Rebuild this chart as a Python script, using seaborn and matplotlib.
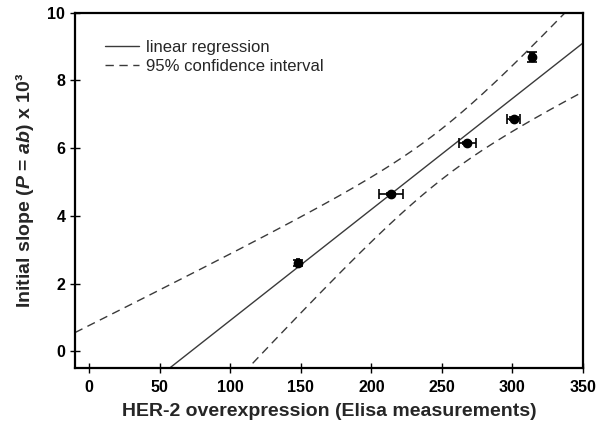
import numpy as np
import pandas as pd
import matplotlib
matplotlib.use("Agg")
import matplotlib.pyplot as plt
import seaborn as sns

# =========================================================
# DATA
# =========================================================
her2 = [148, 214, 268, 301, 314]
slope = [2.61, 4.65, 6.15, 6.87, 8.70]
her2_err = [0.8, 8.6, 5.9, 4.7, 1.2]
slope_err = [0.10, 0.04, 0.04, 0.04, 0.15]

x_ticks = [0, 50, 100, 150, 200, 250, 300, 350]
y_ticks = [0, 2, 4, 6, 8, 10]


# =========================================================
# LINEAR FIT + 95% CONFIDENCE BAND
# =========================================================
def fit_with_ci(x, y, grid):
    x = np.asarray(x, float)
    y = np.asarray(y, float)
    n = len(x)
    b, a = np.polyfit(x, y, 1)
    resid = y - (a + b * x)
    s = np.sqrt(np.sum(resid ** 2) / (n - 2))
    sxx = np.sum((x - x.mean()) ** 2)
    t = 2.776  # t(0.975, df=4)
    fit = a + b * grid
    half = t * s * np.sqrt(1 / n + (grid - x.mean()) ** 2 / sxx)
    return fit, fit - half, fit + half


sns.set_style("ticks")
plt.rcParams["font.family"] = ["Liberation Sans", "DejaVu Sans"]
plt.rcParams["mathtext.fontset"] = "custom"
plt.rcParams["mathtext.rm"] = "Liberation Sans:bold"
plt.rcParams["mathtext.it"] = "Liberation Sans:bold:italic"

grid = np.linspace(-10, 350, 200)
fit, lo, hi = fit_with_ci(her2, slope, grid)
lines = pd.DataFrame({"x": grid, "fit": fit, "lo": lo, "hi": hi})

fig = plt.figure(figsize=(6.03, 4.33), dpi=100)
ax = fig.add_axes([0.1244, 0.1494, 0.8424, 0.8213])

line_col = "#3a3a3a"
sns.lineplot(data=lines, x="x", y="fit", ax=ax, color=line_col, lw=1.0,
             label="linear regression")
sns.lineplot(data=lines, x="x", y="hi", ax=ax, color=line_col, lw=1.0,
             label="95% confidence interval")
sns.lineplot(data=lines, x="x", y="lo", ax=ax, color=line_col, lw=1.0)
for ln in ax.lines[1:3]:
    ln.set_dashes((6, 4))

ax.errorbar(her2, slope, xerr=her2_err, yerr=slope_err, fmt="o",
            color="black", ms=6, capsize=3.5, elinewidth=1.2, capthick=1.2)

ax.set_xlim(-10, 350)
ax.set_ylim(-0.5, 10)
ax.set_xticks(x_ticks)
ax.set_yticks(y_ticks)
ax.tick_params(direction="inout", length=7, width=1, labelsize=11.5,
               colors="black")
ax.tick_params(axis="x", pad=5)
for lab in ax.get_xticklabels() + ax.get_yticklabels():
    lab.set_fontweight("bold")
for sp in ax.spines.values():
    sp.set_visible(True)
    sp.set_linewidth(1.6)
    sp.set_color("black")

ax.set_xlabel("HER-2 overexpression (Elisa measurements)", fontsize=14,
              fontweight="bold", labelpad=6)
ax.set_ylabel(r"Initial slope ($\mathit{P}$ = $\mathit{ab}$) x 10³",
              fontsize=14, fontweight="bold", labelpad=8)

handles, labels = ax.get_legend_handles_labels()
ax.legend(handles[:2], labels[:2], loc="upper left",
          bbox_to_anchor=(0.03, 0.965), frameon=False, fontsize=12,
          handlelength=2.0, handletextpad=0.45, labelspacing=0.25)

fig.savefig("out.png", dpi=100)
